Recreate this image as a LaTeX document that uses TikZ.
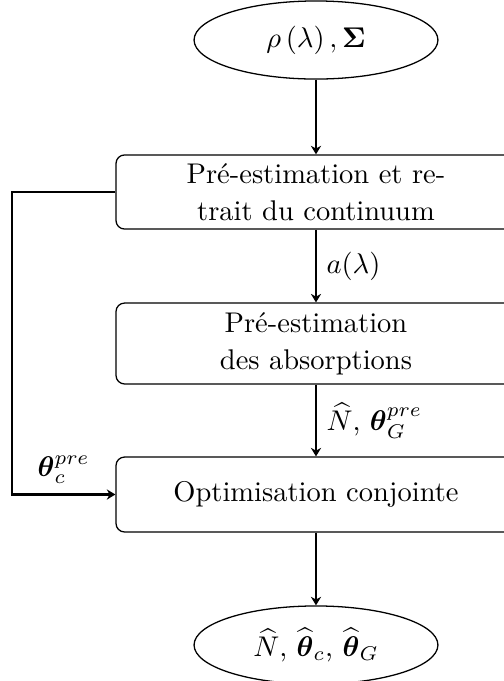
\documentclass[tikz,border=0pt]{standalone}
\usepackage{fontspec}
\usepackage{amsmath}
\usetikzlibrary{arrows.meta,shapes.geometric}
\begin{document}
\begin{tikzpicture}[x=0.351pt,y=-0.351pt,
  box/.style={draw,rounded corners=3pt,line width=0.45pt,align=center,font=\fontsize{10}{13}\selectfont,minimum width=140.4pt,inner sep=0pt},
  term/.style={draw,ellipse,line width=0.45pt,minimum width=85.6pt,minimum height=27.4pt,inner sep=0pt},
  flow/.style={line width=0.75pt,-{Stealth[length=3pt,width=3.6pt]}}]
\useasboundingbox (0,0) rectangle (504,681);
\node[term] (in) at (316,40) {$\rho\left(\lambda\right), \boldsymbol{\Sigma}$};
\node[box,minimum height=26pt] (b1) at (316,192) {Pré-estimation et re-\\trait du continuum};
\node[box,minimum height=28.4pt] (b2) at (316,343.5) {Pré-estimation\\des absorptions};
\node[box,minimum height=26.3pt] (b3) at (316,494.5) {Optimisation conjointe};
\node[term] (out) at (316,645) {$\widehat{N}$, $\widehat{\boldsymbol{\theta}}_c$, $\widehat{\boldsymbol{\theta}}_G$};
\coordinate (lx) at (12,0);
\draw[flow] (in) -- (b1);
\draw[flow] (b1) -- node[right] {$a(\lambda)$} (b2);
\draw[flow] (b2) -- node[right] {$\widehat{N}$, $\boldsymbol{\theta}_G^{pre}$} (b3);
\draw[flow] (b1.west) -- (b1.west -| lx) -- (b3.west -| lx) -- node[above] {$\boldsymbol{\theta}_c^{pre}$} (b3.west);
\draw[flow] (b3) -- (out);
\end{tikzpicture}
\end{document}
